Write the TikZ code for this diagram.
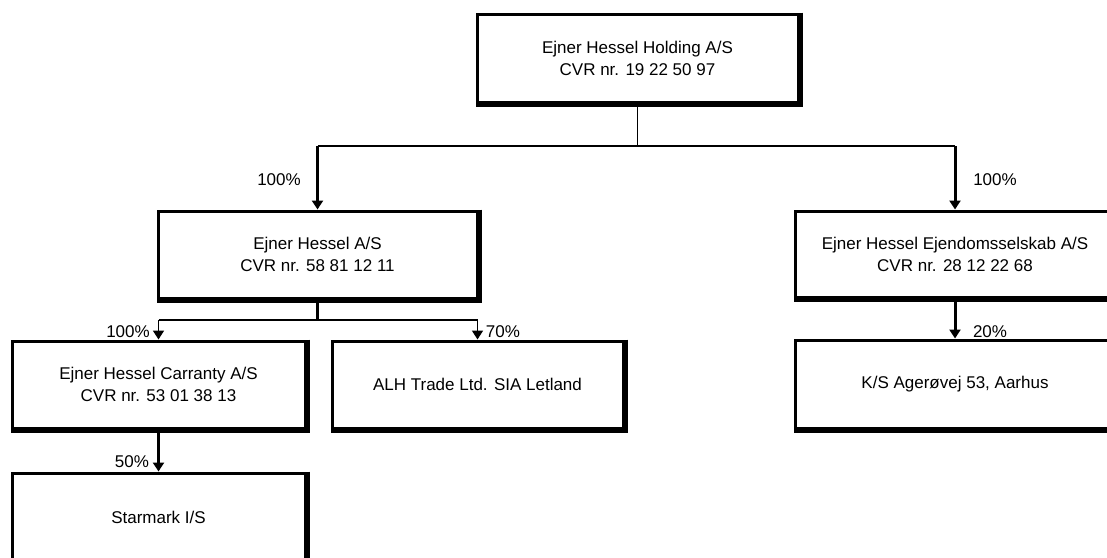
\documentclass[tikz,border=0pt]{standalone}
\usepackage{fontspec}
\setmainfont{Liberation Sans}
\usetikzlibrary{arrows.meta}
\begin{document}
\begin{tikzpicture}[x=1pt,y=-1pt,
  box/.style={draw, line width=3pt, align=center, inner sep=0pt, font=\fontsize{17}{22}\selectfont},
  pct/.style={font=\fontsize{17}{20}\selectfont, inner sep=0pt},
  thinl/.style={line width=1.7pt},
  thickl/.style={line width=3pt},
  arr/.style={-{Triangle[width=11pt,length=9pt]}},
]
\useasboundingbox (0,0) rectangle (1107,557);
\clip (0,0) rectangle (1107,557);

\node[box, minimum width=321pt, minimum height=88pt] (top) at (637.5,58) {Ejner Hessel Holding A/S\\CVR nr. 19 22 50 97};
\node[box, minimum width=319pt, minimum height=87pt] (ehas) at (317.5,254.5) {Ejner Hessel A/S\\CVR nr. 58 81 12 11};
\node[box, minimum width=320pt, minimum height=86pt] (ejd) at (955,254) {Ejner Hessel Ejendomsselskab A/S\\CVR nr. 28 12 22 68};
\node[box, minimum width=293pt, minimum height=87pt] (carr) at (158.5,384.5) {Ejner Hessel Carranty A/S\\CVR nr. 53 01 38 13};
\node[box, minimum width=291pt, minimum height=87pt] (alh) at (477.5,384.5) {ALH Trade Ltd. SIA Letland};
\node[box, minimum width=320pt, minimum height=88pt] (ks) at (955,384) {K/S Agerøvej 53, Aarhus};
\node[box, minimum width=293pt, minimum height=88pt] (star) at (158.5,517) {Starmark I/S};

\foreach \n in {top,ehas,ejd,carr,alh,ks,star}
  \draw[line width=5pt, line join=miter] ([xshift=1pt]\n.north east) -- ([xshift=1pt,yshift=-1pt]\n.south east) -- ([yshift=-1pt]\n.south west);

\coordinate (h1) at (0,146);
\coordinate (h2) at (0,320);

\draw[thinl] (top.south) -- (top.south |- h1);
\draw[thinl] (ehas.north |- h1) -- (ejd.north |- h1);
\draw[thickl,arr] (ehas.north |- h1) -- (ehas.north);
\draw[thickl,arr] (ejd.north |- h1) -- (ejd.north);

\draw[thickl] (ehas.south) -- (ehas.south |- h2);
\draw[thinl] (carr.north |- h2) -- (alh.north |- h2);
\draw[thinl,arr] (carr.north |- h2) -- (carr.north);
\draw[thinl,arr] (alh.north |- h2) -- (alh.north);

\draw[thickl,arr] (ejd.south) -- (ks.north);
\draw[thickl,arr] (carr.south) -- (star.north);

\node[pct] (l1) at (279,180) {100\%};
\node[pct] (l2) at (995,180) {100\%};
\node[pct] (l3) at (128,332) {100\%};
\node[pct] (l4) at (503,332) {70\%};
\node[pct] (l5) at (990,332) {20\%};
\node[pct] (l6) at (132,462) {50\%};
\end{tikzpicture}
\end{document}
